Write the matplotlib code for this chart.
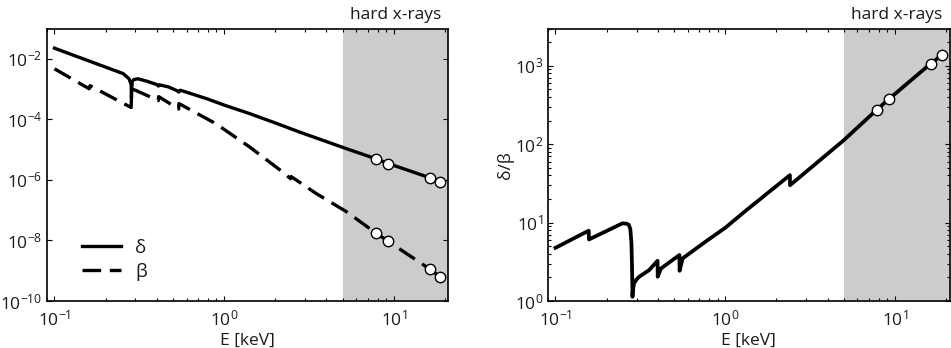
import numpy as np
import matplotlib
matplotlib.use("Agg")
import matplotlib.pyplot as plt
from matplotlib.ticker import NullFormatter

plt.rcParams['font.family'] = ['Open Sans', 'DejaVu Sans']
plt.rcParams['mathtext.fontset'] = 'custom'
plt.rcParams['mathtext.rm'] = 'Open Sans'
plt.rcParams['mathtext.it'] = 'Open Sans:italic'
plt.rcParams['mathtext.bf'] = 'Open Sans:bold'
plt.rcParams['axes.unicode_minus'] = False

# ---- data (energy in keV) ----
delta_E = [0.1, 0.161, 0.254, 0.275, 0.283, 0.284, 0.287, 0.293, 0.31, 0.35, 0.40,
           0.41, 0.415, 0.47, 0.53, 0.54, 0.55, 0.567, 0.8, 1.0, 1.41, 2.0, 2.78,
           5.25, 7.8, 9.25, 16.3, 18.8]
delta_log = [-1.65, -2.08, -2.49, -2.66, -2.85, -3.27, -2.75, -2.69, -2.66, -2.74, -2.85,
             -2.90, -2.86, -2.93, -3.06, -3.10, -3.04, -3.06, -3.33, -3.53, -3.81, -4.12, -4.42,
             -4.97, -5.30, -5.46, -5.93, -6.07]

beta_E = [0.1, 0.160, 0.162, 0.283, 0.285, 0.30, 0.409, 0.411, 0.539, 0.541, 0.567,
          0.89, 1.41, 2.21, 2.46, 2.48, 3.48, 5.25, 7.8, 9.25, 16.3, 18.8]
beta_log = [-2.33, -2.99, -2.89, -3.61, -3.00, -3.04, -3.38, -3.25, -3.66, -3.48, -3.54,
            -4.14, -4.91, -5.74, -5.96, -5.89, -6.45, -7.05, -7.75, -8.03, -8.95, -9.22]

ratio_E = [0.1, 0.157, 0.1575, 0.248, 0.262, 0.270, 0.276, 0.280, 0.282, 0.2835, 0.284,
           0.2855, 0.290, 0.300, 0.311, 0.356, 0.399, 0.400, 0.418, 0.537, 0.538, 0.561,
           0.789, 1.0, 1.33, 2.40, 2.405, 4.97, 7.8, 9.25, 16.2, 19.0]
ratio_val = [4.77, 7.9, 6.1, 9.8, 9.7, 9.4, 8.3, 5.5, 3.0, 1.7, 1.13,
             1.35, 1.68, 1.88, 2.04, 2.48, 3.26, 2.04, 2.6, 3.86, 2.43, 3.5,
             6.0, 8.6, 14.4, 40.3, 30.0, 112, 276, 382, 1070, 1390]

marker_E = [7.8, 9.25, 16.3, 18.8]
marker_delta_log = [-5.30, -5.46, -5.93, -6.07]
marker_beta_log = [-7.75, -8.03, -8.95, -9.22]
marker_ratio_E = [7.8, 9.25, 16.2, 19.0]
marker_ratio = [276, 382, 1070, 1390]

hard_xray_start = 5.0
xlim = (0.09, 20.9)

# ---- figure ----
fig = plt.figure(figsize=(9.51, 3.48), dpi=100)
W, H = 951, 348
ax1 = fig.add_axes([46.7 / W, 1 - 301 / H, (448.3 - 46.7) / W, (301 - 28.5) / H])
ax2 = fig.add_axes([547.7 / W, 1 - 301 / H, (949.5 - 547.7) / W, (301 - 28.5) / H])

txt_color = '#1a1a1a'
fs = 12.5
lw = 2.4
shade = '#cccccc'
mk = dict(marker='o', ms=7.5, mfc='white', mec='black', mew=1.0, ls='none', zorder=5)

# left panel
ax1.axvspan(hard_xray_start, xlim[1], color=shade, lw=0, zorder=0)
ax1.plot(delta_E, 10 ** np.array(delta_log), color='black', lw=lw, label='δ',
         solid_joinstyle='round')
ax1.plot(beta_E, 10 ** np.array(beta_log), color='black', lw=lw,
         ls=(0, (5.6, 2.6)), label='β')
ax1.plot(marker_E, 10 ** np.array(marker_delta_log), **mk)
ax1.plot(marker_E, 10 ** np.array(marker_beta_log), **mk)
ax1.set_xscale('log')
ax1.set_yscale('log')
ax1.set_xlim(*xlim)
ax1.set_ylim(1e-10, 1e-1)
ax1.set_yticks([1e-10, 1e-8, 1e-6, 1e-4, 1e-2])
ax1.yaxis.set_minor_formatter(NullFormatter())
leg = ax1.legend(loc='center left', bbox_to_anchor=(0.087, 0.151), frameon=False,
                 borderpad=0, borderaxespad=0, handlelength=2.1, handletextpad=0.75,
                 labelspacing=0.3, fontsize=13.5)
for t in leg.get_texts():
    t.set_color(txt_color)

# right panel
ax2.axvspan(hard_xray_start, xlim[1], color=shade, lw=0, zorder=0)
ax2.plot(ratio_E, ratio_val, color='black', lw=2.7, solid_joinstyle='round')
ax2.plot(marker_ratio_E, marker_ratio, **mk)
ax2.set_xscale('log')
ax2.set_yscale('log')
ax2.set_xlim(*xlim)
ax2.set_ylim(1, 3000)
ax2.set_ylabel('δ/β', fontsize=fs, color=txt_color, labelpad=1)

for ax in (ax1, ax2):
    ax.set_xlabel('E [keV]', fontsize=fs, color=txt_color, labelpad=2.5)
    ax.tick_params(which='both', direction='in', top=True, right=True,
                   labelsize=fs, labelcolor=txt_color, width=0.8)
    ax.tick_params(which='major', length=3.5)
    ax.tick_params(which='minor', length=2)
    ax.tick_params(axis='x', which='major', pad=6)
    ax.tick_params(axis='y', which='major', pad=3)
    for s in ax.spines.values():
        s.set_linewidth(1.2)
        s.set_color('black')
    ax.text(0.983, 1.02, 'hard x-rays', transform=ax.transAxes, ha='right', va='bottom',
            fontsize=fs, color=txt_color)

ax1.tick_params(axis='y', which='minor', length=0)

fig.savefig('out.png', dpi=100)
